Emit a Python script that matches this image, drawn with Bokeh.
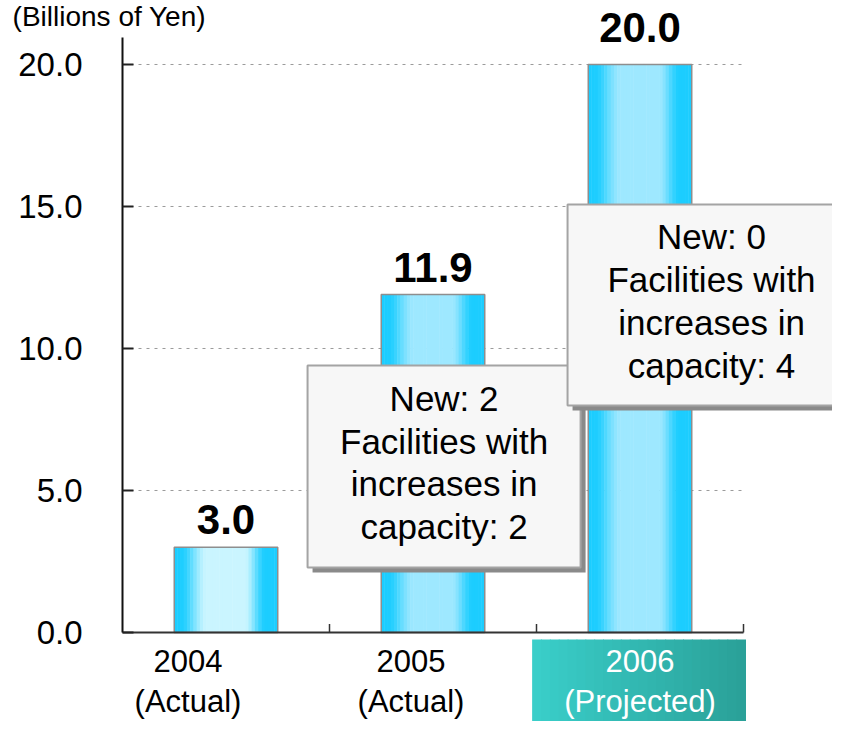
import numpy as np
from bokeh.plotting import figure
from bokeh.models import Range1d, FixedTicker, Label, NumeralTickFormatter
from bokeh.core.properties import value
from bokeh.embed import file_html
from bokeh.resources import INLINE

# ---- data ----
years = ["2004", "2005", "2006"]
status = ["(Actual)", "(Actual)", "(Projected)"]
amounts = [3.0, 11.9, 20.0]
y_ticks = [0, 5, 10, 15, 20]
unit_label = "(Billions of Yen)"
note_years = ["2005", "2006"]
note_new = [2, 0]
note_increase = [2, 4]

FONT = "Liberation Sans"
n = len(years)
centers = [i + 0.5 for i in range(n)]
BAR_W = 0.5

p = figure(frame_width=832, frame_height=721,
           x_range=Range1d(-0.58937, 3.42995), y_range=Range1d(-3.1338, 22.2535),
           x_axis_location=None, output_backend="svg", toolbar_location=None,
           min_border_left=0, min_border_right=0, min_border_top=0, min_border_bottom=0)
p.outline_line_color = None
p.xgrid.visible = False
p.ygrid.visible = False
p.background_fill_color = "white"
p.border_fill_color = "white"

yax = p.yaxis[0]
yax.fixed_location = 0
yax.ticker = FixedTicker(ticks=y_ticks)
yax.bounds = (0, 20.95)
yax.formatter = NumeralTickFormatter(format="0.0")
yax.major_tick_in = 11
yax.major_tick_out = 0
yax.minor_tick_line_color = None
yax.major_tick_line_width = 2
yax.major_tick_line_color = "#222222"
yax.axis_line_width = 2
yax.axis_line_color = "#111111"
yax.major_label_text_font = FONT
yax.major_label_text_font_size = "33px"
yax.major_label_text_color = "black"
yax.major_label_standoff = 40

# dotted gridlines across the category area
p.segment(x0=0, x1=n, y0=y_ticks[1:], y1=y_ticks[1:], line_color="#9a9a9a",
          line_width=1, line_dash="3 5")

# gradient bars as thin strips
def profile(t):
    if t < 0.06:
        return 0.0
    if t < 0.32:
        u = (t - 0.06) / 0.26
        return u * u * (3 - 2 * u)
    if t < 0.68:
        return 1.0
    if t < 0.88:
        u = 1 - (t - 0.68) / 0.20
        return u * u * (3 - 2 * u)
    return 0.0

edge = np.array([28, 205, 255])
lights = [np.array([202, 245, 255]), np.array([158, 232, 255]), np.array([158, 232, 255])]
N = 32
sx, stop, scol = [], [], []
for i, (c, v) in enumerate(zip(centers, amounts)):
    for k in range(N):
        t = (k + 0.5) / N
        f = profile(t)
        rgb = edge + (lights[i] - edge) * f
        sx.append(c - BAR_W / 2 + t * BAR_W)
        stop.append(v)
        scol.append("#%02x%02x%02x" % tuple(int(round(q)) for q in rgb))
p.vbar(x=sx, top=stop, bottom=0, width=BAR_W / N * 1.15, fill_color=scol, line_color=None)
p.vbar(x=centers, top=amounts, bottom=0, width=BAR_W, fill_color=None,
       line_color="#8e8e8e", line_width=1.5)

# value labels
p.text(x=centers, y=amounts, text=[f"{v:.1f}" for v in amounts],
       text_font=value(FONT), text_font_style="bold", text_font_size="42px",
       text_align="center", text_baseline="bottom", y_offset=[-13, -13, -22],
       text_color="black")

# x baseline and category separators
p.segment(x0=0, x1=n, y0=0, y1=0, line_color="#333333", line_width=2)
p.segment(x0=list(range(1, n + 1)), x1=list(range(1, n + 1)), y0=0, y1=0.3,
          line_color="#333333", line_width=1.5)

# annotation boxes (layout in data units)
box_l = [0.894, 2.150]
box_r = [2.213, 3.541]
box_t = [9.40, 15.07]
box_b = [2.29, 7.99]
dx, dy = 5 / 207, 5 / 28.4
for j in range(len(note_years)):
    p.quad(left=box_l[j] + dx, right=box_r[j] + dx, top=box_t[j] - dy, bottom=box_b[j] - dy,
           fill_color="#8a8a8a", line_color=None)
    p.quad(left=box_l[j], right=box_r[j], top=box_t[j], bottom=box_b[j],
           fill_color="#f7f7f7", line_color="#a4a4a4", line_width=2)
    p.text(x=[(box_l[j] + box_r[j]) / 2], y=[(box_t[j] + box_b[j]) / 2],
           text=[f"New: {note_new[j]}\nFacilities with\nincreases in\ncapacity: {note_increase[j]}"],
           text_font=value(FONT), text_font_size="35px", text_align="center",
           text_baseline="middle", text_line_height=1.10, y_offset=-4, text_color="black")

# highlighted projected-year label background
hl_l, hl_r, hl_t, hl_b = 1.981, 3.010, -0.246, -3.70
M = 24
hx, hcol = [], []
c0, c1 = np.array([58, 207, 202]), np.array([42, 160, 152])
for k in range(M):
    t = (k + 0.5) / M
    hx.append(hl_l + t * (hl_r - hl_l))
    rgb = c0 + (c1 - c0) * t
    hcol.append("#%02x%02x%02x" % tuple(int(round(q)) for q in rgb))
p.vbar(x=hx, top=hl_t, bottom=hl_b, width=(hl_r - hl_l) / M * 1.1, fill_color=hcol, line_color=None)

# category labels
p.text(x=centers, y=0, text=[f"{y}\n{s}" for y, s in zip(years, status)],
       x_offset=[-38, -22, 0], y_offset=49,
       text_font=value(FONT), text_font_size="31px", text_align="center",
       text_baseline="middle", text_line_height=1.155,
       text_color=["black", "black", "white"])

p.add_layout(Label(x=-0.531, y=22.2535, text=unit_label, text_font=FONT,
                   text_font_size="28px", text_baseline="top", text_align="left",
                   text_color="black"))

open("out.html", "w").write(file_html(p, INLINE))
